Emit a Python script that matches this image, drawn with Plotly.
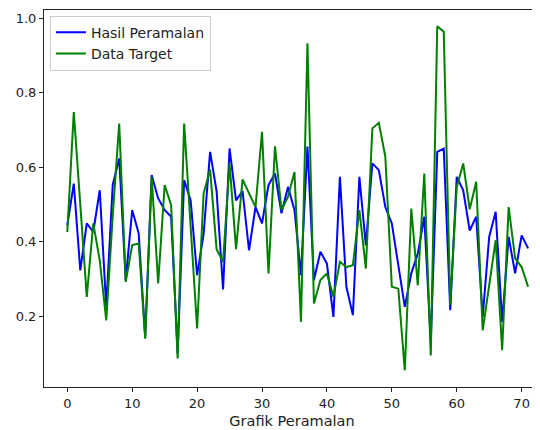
import plotly.graph_objects as go

# Hasil Peramalan (forecast) vs Data Target, 72 points
idx = list(range(72))

hasil_peramalan = [0.444, 0.556, 0.323, 0.449, 0.426, 0.538, 0.225, 0.552, 0.623, 0.297,
                   0.485, 0.422, 0.145, 0.579, 0.516, 0.485, 0.467, 0.10, 0.565, 0.511,
                   0.31, 0.42, 0.641, 0.536, 0.272, 0.65, 0.511, 0.536, 0.377, 0.493,
                   0.449, 0.552, 0.583, 0.476, 0.547, 0.485, 0.31, 0.655, 0.297, 0.373,
                   0.341, 0.198, 0.574, 0.279, 0.203, 0.574, 0.39, 0.61, 0.592, 0.493,
                   0.449, 0.332, 0.225, 0.315, 0.368, 0.467, 0.13, 0.641, 0.65, 0.216,
                   0.574, 0.538, 0.43, 0.467, 0.198, 0.413, 0.48, 0.185, 0.413, 0.315,
                   0.417, 0.382]

data_target = [0.426, 0.748, 0.50, 0.252, 0.449, 0.35, 0.189, 0.47, 0.717, 0.292,
               0.391, 0.395, 0.14, 0.575, 0.288, 0.552, 0.498, 0.087, 0.717, 0.44,
               0.167, 0.529, 0.594, 0.38, 0.346, 0.61, 0.38, 0.567, 0.529, 0.493,
               0.695, 0.315, 0.656, 0.485, 0.52, 0.587, 0.185, 0.932, 0.234, 0.297,
               0.315, 0.252, 0.346, 0.332, 0.337, 0.485, 0.328, 0.704, 0.719, 0.628,
               0.279, 0.274, 0.055, 0.489, 0.283, 0.583, 0.095, 0.978, 0.963, 0.23,
               0.547, 0.61, 0.487, 0.561, 0.162, 0.283, 0.404, 0.109, 0.493, 0.355,
               0.332, 0.279]

x_ticks = [0, 10, 20, 30, 40, 50, 60, 70]
y_ticks = [0.2, 0.4, 0.6, 0.8, 1.0]

fig = go.Figure()
fig.add_trace(go.Scatter(x=idx, y=hasil_peramalan, mode='lines', name='Hasil Peramalan',
                         line=dict(color='#0000ff', width=2)))
fig.add_trace(go.Scatter(x=idx, y=data_target, mode='lines', name='Data Target',
                         line=dict(color='#008000', width=2)))

font = dict(family='DejaVu Sans', size=13, color='#222222')

# page body has an 8px margin, so the figure is a bit smaller and shifted
fig.update_layout(
    width=532, height=422,
    margin=dict(l=36, r=0, t=2, b=43),
    plot_bgcolor='white', paper_bgcolor='white',
    font=font,
    showlegend=True,
    legend=dict(x=0.012, y=0.985, xanchor='left', yanchor='top',
                bgcolor='rgba(255,255,255,0.85)', bordercolor='#cccccc', borderwidth=1,
                font=dict(family='DejaVu Sans', size=14, color='#222222'),
                tracegroupgap=0, itemwidth=30),
    xaxis=dict(range=[-3.59, 72.83], tickvals=x_ticks, ticks='outside', ticklen=4,
               tickcolor='#222', showgrid=False, zeroline=False, automargin=False,
               showline=True, linecolor='#222', linewidth=1, mirror=True,
               title=dict(text='Grafik Peramalan', standoff=6,
                          font=dict(family='DejaVu Sans', size=14.5, color='#222222'))),
    yaxis=dict(range=[0.0102, 1.0215], tickvals=y_ticks, tickformat='.1f',
               ticks='outside', ticklen=4, tickcolor='#222', showgrid=False,
               zeroline=False, showline=True, linecolor='#222', linewidth=1,
               automargin=False),
)

fig.write_html("out.html")
